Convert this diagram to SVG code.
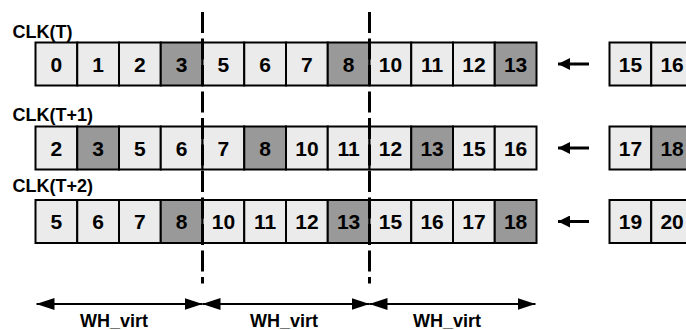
<svg xmlns="http://www.w3.org/2000/svg" width="686" height="330" viewBox="0 0 686 330">
<defs>
<style>
.c{stroke:#000;stroke-width:2}
.l{fill:#ebebeb}
.d{fill:#999999}
.n{font-family:"Liberation Sans",Arial,sans-serif;font-weight:bold;font-size:21px;text-anchor:middle;fill:#000}
.w{font-family:"Liberation Sans",Arial,sans-serif;font-weight:bold;font-size:18px;text-anchor:middle;fill:#000}
.lab{font-family:"Liberation Sans",Arial,sans-serif;font-weight:bold;font-size:18px;fill:#000}
.dash{stroke:#000;stroke-width:3;stroke-dasharray:21 5.5;fill:none}
.ar{stroke:#000;stroke-width:2;fill:none}
.ra{stroke:#000;stroke-width:3;fill:none}
</style>
<marker id="hb" markerUnits="userSpaceOnUse" markerWidth="18" markerHeight="12" refX="18" refY="6" orient="auto-start-reverse"><path d="M0,0 L18,6 L0,12 z" fill="#000"/></marker>
<marker id="hs" markerUnits="userSpaceOnUse" markerWidth="12" markerHeight="12" refX="12" refY="6" orient="auto"><path d="M0,0 L12,6 L0,12 z" fill="#000"/></marker>
</defs>
<rect width="686" height="330" fill="#fff"/>
<g id="labels">
<text class="lab" x="12.5" y="37.5">CLK(T)</text>
<text class="lab" x="12.5" y="120.5">CLK(T+1)</text>
<text class="lab" x="12.5" y="191.5">CLK(T+2)</text>
</g>
<g id="row1">
<rect class="c l" x="35.5" y="42.5" width="41.75" height="43"/>
<rect class="c l" x="77.25" y="42.5" width="41.75" height="43"/>
<rect class="c l" x="119" y="42.5" width="41.75" height="43"/>
<rect class="c d" x="160.75" y="42.5" width="41.75" height="43"/>
<rect class="c l" x="202.5" y="42.5" width="41.75" height="43"/>
<rect class="c l" x="244.25" y="42.5" width="41.75" height="43"/>
<rect class="c l" x="286" y="42.5" width="41.75" height="43"/>
<rect class="c d" x="327.75" y="42.5" width="41.75" height="43"/>
<rect class="c l" x="369.5" y="42.5" width="41.75" height="43"/>
<rect class="c l" x="411.25" y="42.5" width="41.75" height="43"/>
<rect class="c l" x="453" y="42.5" width="41.75" height="43"/>
<rect class="c d" x="494.75" y="42.5" width="41.75" height="43"/>
<text class="n" x="56.4" y="71.5">0</text>
<text class="n" x="98.1" y="71.5">1</text>
<text class="n" x="139.9" y="71.5">2</text>
<text class="n" x="181.6" y="71.5">3</text>
<text class="n" x="223.4" y="71.5">5</text>
<text class="n" x="265.1" y="71.5">6</text>
<text class="n" x="306.9" y="71.5">7</text>
<text class="n" x="348.6" y="71.5">8</text>
<text class="n" x="390.4" y="71.5">10</text>
<text class="n" x="432.1" y="71.5">11</text>
<text class="n" x="473.9" y="71.5">12</text>
<text class="n" x="515.6" y="71.5">13</text>
</g>
<g id="row1-next">
<rect class="c l" x="609.5" y="42.5" width="41.75" height="43"/>
<rect class="c l" x="651.25" y="42.5" width="41.75" height="43"/>
<text class="n" x="630.4" y="71.5">15</text>
<text class="n" x="672.1" y="71.5">16</text>
</g>
<g id="row2">
<rect class="c l" x="35.5" y="126.5" width="41.75" height="43"/>
<rect class="c d" x="77.25" y="126.5" width="41.75" height="43"/>
<rect class="c l" x="119" y="126.5" width="41.75" height="43"/>
<rect class="c l" x="160.75" y="126.5" width="41.75" height="43"/>
<rect class="c l" x="202.5" y="126.5" width="41.75" height="43"/>
<rect class="c d" x="244.25" y="126.5" width="41.75" height="43"/>
<rect class="c l" x="286" y="126.5" width="41.75" height="43"/>
<rect class="c l" x="327.75" y="126.5" width="41.75" height="43"/>
<rect class="c l" x="369.5" y="126.5" width="41.75" height="43"/>
<rect class="c d" x="411.25" y="126.5" width="41.75" height="43"/>
<rect class="c l" x="453" y="126.5" width="41.75" height="43"/>
<rect class="c l" x="494.75" y="126.5" width="41.75" height="43"/>
<text class="n" x="56.4" y="155.5">2</text>
<text class="n" x="98.1" y="155.5">3</text>
<text class="n" x="139.9" y="155.5">5</text>
<text class="n" x="181.6" y="155.5">6</text>
<text class="n" x="223.4" y="155.5">7</text>
<text class="n" x="265.1" y="155.5">8</text>
<text class="n" x="306.9" y="155.5">10</text>
<text class="n" x="348.6" y="155.5">11</text>
<text class="n" x="390.4" y="155.5">12</text>
<text class="n" x="432.1" y="155.5">13</text>
<text class="n" x="473.9" y="155.5">15</text>
<text class="n" x="515.6" y="155.5">16</text>
</g>
<g id="row2-next">
<rect class="c l" x="609.5" y="126.5" width="41.75" height="43"/>
<rect class="c d" x="651.25" y="126.5" width="41.75" height="43"/>
<text class="n" x="630.4" y="155.5">17</text>
<text class="n" x="672.1" y="155.5">18</text>
</g>
<g id="row3">
<rect class="c l" x="35.5" y="200" width="41.75" height="43"/>
<rect class="c l" x="77.25" y="200" width="41.75" height="43"/>
<rect class="c l" x="119" y="200" width="41.75" height="43"/>
<rect class="c d" x="160.75" y="200" width="41.75" height="43"/>
<rect class="c l" x="202.5" y="200" width="41.75" height="43"/>
<rect class="c l" x="244.25" y="200" width="41.75" height="43"/>
<rect class="c l" x="286" y="200" width="41.75" height="43"/>
<rect class="c d" x="327.75" y="200" width="41.75" height="43"/>
<rect class="c l" x="369.5" y="200" width="41.75" height="43"/>
<rect class="c l" x="411.25" y="200" width="41.75" height="43"/>
<rect class="c l" x="453" y="200" width="41.75" height="43"/>
<rect class="c d" x="494.75" y="200" width="41.75" height="43"/>
<text class="n" x="56.4" y="229">5</text>
<text class="n" x="98.1" y="229">6</text>
<text class="n" x="139.9" y="229">7</text>
<text class="n" x="181.6" y="229">8</text>
<text class="n" x="223.4" y="229">10</text>
<text class="n" x="265.1" y="229">11</text>
<text class="n" x="306.9" y="229">12</text>
<text class="n" x="348.6" y="229">13</text>
<text class="n" x="390.4" y="229">15</text>
<text class="n" x="432.1" y="229">16</text>
<text class="n" x="473.9" y="229">17</text>
<text class="n" x="515.6" y="229">18</text>
</g>
<g id="row3-next">
<rect class="c l" x="609.5" y="200" width="41.75" height="43"/>
<rect class="c l" x="651.25" y="200" width="41.75" height="43"/>
<text class="n" x="630.4" y="229">19</text>
<text class="n" x="672.1" y="229">20</text>
</g>
<g id="connectors">
<line class="dash" x1="202.5" y1="12" x2="202.5" y2="283.5"/>
<line class="dash" x1="369.5" y1="12" x2="369.5" y2="283.5"/>
<line class="ra" x1="589" y1="64" x2="558" y2="64" marker-end="url(#hs)"/>
<line class="ra" x1="589" y1="148" x2="558" y2="148" marker-end="url(#hs)"/>
<line class="ra" x1="589" y1="221.5" x2="558" y2="221.5" marker-end="url(#hs)"/>
<line class="ar" x1="36.5" y1="304" x2="202.5" y2="304" marker-start="url(#hb)" marker-end="url(#hb)"/>
<line class="ar" x1="202.5" y1="304" x2="369.5" y2="304" marker-start="url(#hb)" marker-end="url(#hb)"/>
<line class="ar" x1="369.5" y1="304" x2="535.5" y2="304" marker-start="url(#hb)" marker-end="url(#hb)"/>
</g>
<g id="dimension-labels">
<text class="w" x="114" y="326.5">WH_virt</text>
<text class="w" x="284" y="326.5">WH_virt</text>
<text class="w" x="447" y="326.5">WH_virt</text>
</g>
</svg>
